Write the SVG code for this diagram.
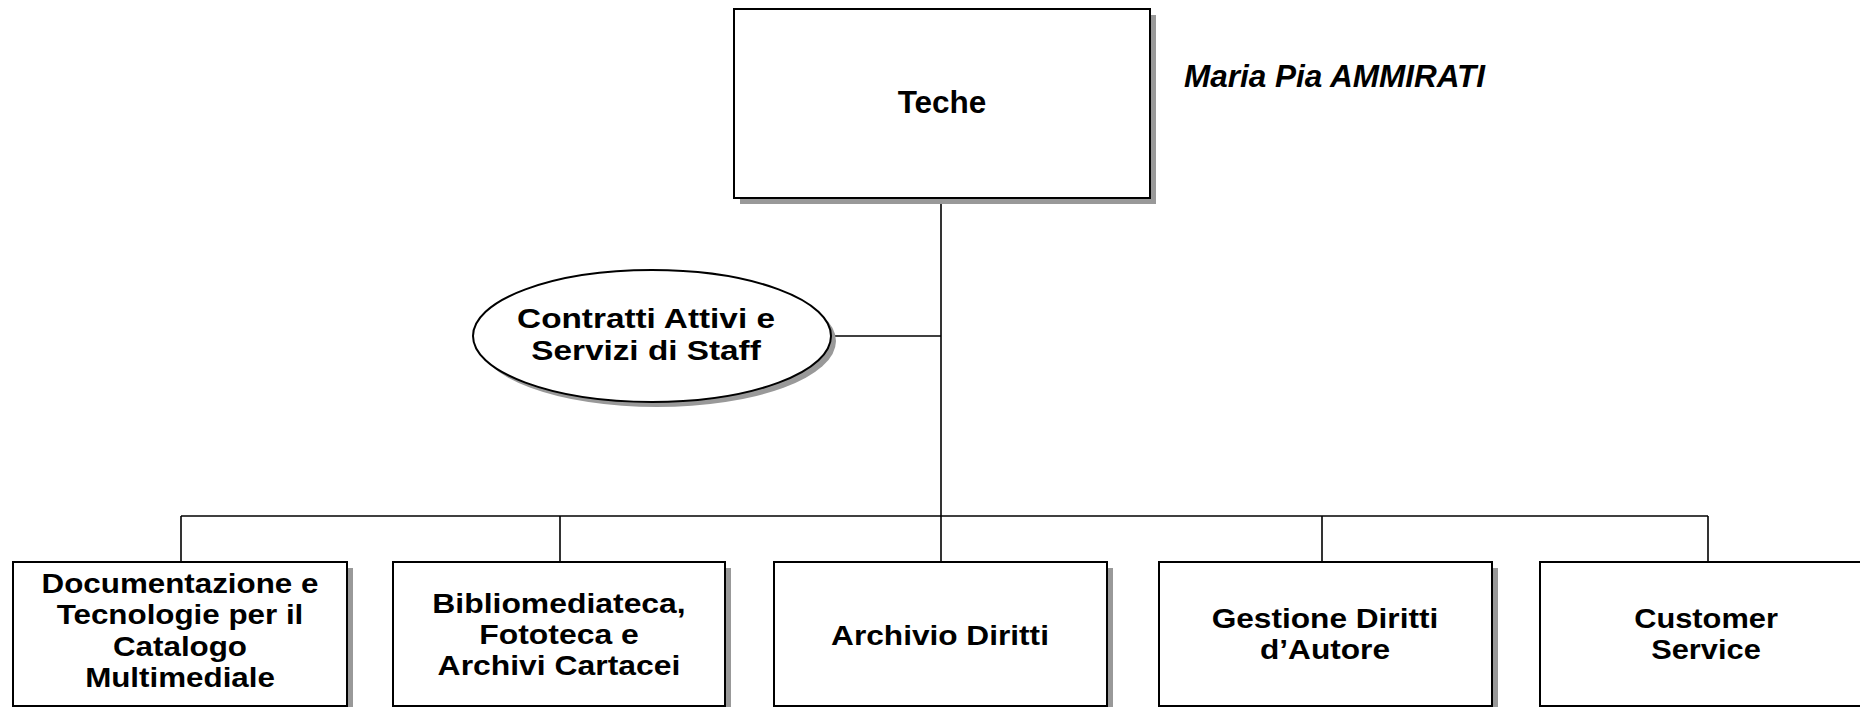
<svg xmlns="http://www.w3.org/2000/svg" width="1860" height="707" viewBox="0 0 1860 707">
<style>
.shadow{fill:#999999;stroke:none}
.box{fill:#ffffff;stroke:#000000;stroke-width:2}
.lbl{font-family:"Liberation Sans",Arial,sans-serif;font-weight:bold;font-size:27.5px;fill:#000000;text-anchor:middle}
.top{font-size:31.5px}
.ell{font-size:28px}
.name{font-family:"Liberation Sans",Arial,sans-serif;font-weight:bold;font-style:italic;font-size:31.5px;fill:#000000}
.conn{stroke:#000000;stroke-width:1.6;fill:none}
</style>
<rect width="1860" height="707" fill="#ffffff"/>
<g id="connectors">
<line class="conn" x1="941" y1="198" x2="941" y2="562"/>
<line class="conn" x1="832" y1="336" x2="941" y2="336"/>
<line class="conn" x1="181" y1="516" x2="1708" y2="516"/>
<line class="conn" x1="181" y1="516" x2="181" y2="562"/>
<line class="conn" x1="560" y1="516" x2="560" y2="562"/>
<line class="conn" x1="1322" y1="516" x2="1322" y2="562"/>
<line class="conn" x1="1708" y1="516" x2="1708" y2="562"/>
</g>
<g id="teche">
<rect class="shadow" x="740" y="15" width="416" height="189"/>
<rect class="box" x="734" y="9" width="416" height="189"/>
<text class="lbl top" x="942" y="113">Teche</text>
</g>
<g id="responsabile">
<text class="name" x="1184" y="87">Maria Pia AMMIRATI</text>
</g>
<g id="staff">
<ellipse class="shadow" cx="657" cy="341" rx="179" ry="66"/>
<ellipse class="box" cx="652" cy="336" rx="179" ry="66"/>
<g transform="translate(646 0) scale(1.19 1)">
<text class="lbl ell" x="0" y="328">Contratti Attivi e</text>
<text class="lbl ell" x="0" y="360">Servizi di Staff</text>
</g>
</g>
<g id="documentazione">
<rect class="shadow" x="19" y="568" width="334" height="144"/>
<rect class="box" x="13" y="562" width="334" height="144"/>
<g transform="translate(180 0) scale(1.14 1)">
<text class="lbl" x="0" y="593">Documentazione e</text>
<text class="lbl" x="0" y="624.5">Tecnologie per il</text>
<text class="lbl" x="0" y="656">Catalogo</text>
<text class="lbl" x="0" y="687.5">Multimediale</text>
</g>
</g>
<g id="bibliomediateca">
<rect class="shadow" x="399" y="568" width="332" height="144"/>
<rect class="box" x="393" y="562" width="332" height="144"/>
<g transform="translate(559 0) scale(1.16 1)">
<text class="lbl" x="0" y="613">Bibliomediateca,</text>
<text class="lbl" x="0" y="644">Fototeca e</text>
<text class="lbl" x="0" y="675">Archivi Cartacei</text>
</g>
</g>
<g id="archivio">
<rect class="shadow" x="780" y="568" width="333" height="144"/>
<rect class="box" x="774" y="562" width="333" height="144"/>
<g transform="translate(940 0) scale(1.15 1)">
<text class="lbl" x="0" y="645">Archivio Diritti</text>
</g>
</g>
<g id="gestione">
<rect class="shadow" x="1165" y="568" width="333" height="144"/>
<rect class="box" x="1159" y="562" width="333" height="144"/>
<g transform="translate(1325 0) scale(1.15 1)">
<text class="lbl" x="0" y="628">Gestione Diritti</text>
<text class="lbl" x="0" y="659">d’Autore</text>
</g>
</g>
<g id="customer">
<rect class="shadow" x="1546" y="568" width="333" height="144"/>
<rect class="box" x="1540" y="562" width="333" height="144"/>
<g transform="translate(1706 0) scale(1.12 1)">
<text class="lbl" x="0" y="628">Customer</text>
<text class="lbl" x="0" y="659">Service</text>
</g>
</g>
</svg>
